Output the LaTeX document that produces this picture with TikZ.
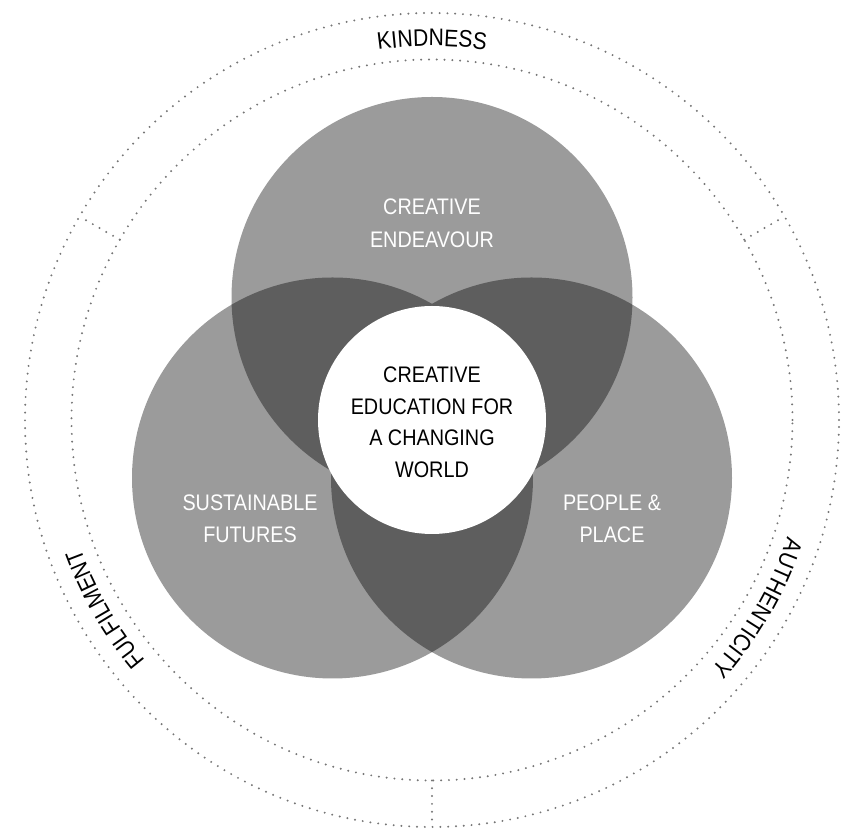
\documentclass[tikz,border=0pt]{standalone}
\usepackage{fontspec}
\setmainfont{Liberation Sans}[FakeStretch=0.88]
\usetikzlibrary{decorations.text}

\definecolor{petal}{RGB}{155,155,155}
\definecolor{overlap}{RGB}{94,94,94}
\definecolor{dotgray}{RGB}{118,118,118}

\newcommand\ringfont{\fontsize{24}{28}\selectfont}

\tikzset{
  ring/.style={draw=dotgray, line width=2.2pt, line cap=round, dash pattern=on 0pt off 7.8pt},
  petaltext/.style={text=white, align=center, font=\fontsize{22.5}{32.5}\selectfont, inner sep=0pt},
  hubtext/.style={text=black, align=center, font=\fontsize{22.5}{31.5}\selectfont, inner sep=0pt},
  ringlabel/.style={decorate, decoration={text along path, text align=center, text color=black}},
}

\begin{document}
\begin{tikzpicture}[x=1pt,y=1pt]
\useasboundingbox (0,0) rectangle (841,829);

\coordinate (O) at (432,409);
\coordinate (T) at (432,531.5);
\coordinate (L) at (332.5,351);
\coordinate (R) at (531.5,351);
\def\petalr{200.5}

% the three values circles
\fill[petal] (T) circle[radius=\petalr];
\fill[petal] (L) circle[radius=\petalr];
\fill[petal] (R) circle[radius=\petalr];

% pairwise overlaps
\begin{scope}
  \clip (T) circle[radius=\petalr];
  \fill[overlap] (L) circle[radius=\petalr];
  \fill[overlap] (R) circle[radius=\petalr];
\end{scope}
\begin{scope}
  \clip (L) circle[radius=\petalr];
  \fill[overlap] (R) circle[radius=\petalr];
\end{scope}

% central hub
\node[circle, fill=white, minimum size=228pt, inner sep=0pt] (hub) at (O) {};
\node[hubtext] (hubtitle) at (432,406.5) {CREATIVE\\EDUCATION FOR\\A CHANGING\\WORLD};

% circle labels
\node[petaltext] (endeavour) at (432,605.5) {CREATIVE\\ENDEAVOUR};
\node[petaltext] (futures) at (250,310) {SUSTAINABLE\\FUTURES};
\node[petaltext] (place) at (612,310) {PEOPLE \&\\PLACE};

% dotted outer band
\draw[ring] (O) circle[radius=407];
\draw[ring] (O) circle[radius=360.5];
\foreach \a in {30,150,270}
  \draw[ring] (O) ++(\a:360.5) -- ++(\a:46.5);

% band labels
\path[ringlabel, decoration={text={|\ringfont|KINDNESS}}]
  (O) ++(120:374) arc[start angle=120, end angle=60, radius=374];
\path[ringlabel, decoration={text={|\ringfont|FULFILMENT}}]
  (O) ++(240:374) arc[start angle=240, end angle=180, radius=374];
\path[ringlabel, decoration={text={|\ringfont|AUTHENTICITY}}]
  (O) ++(360:374) arc[start angle=360, end angle=300, radius=374];
\end{tikzpicture}
\end{document}
